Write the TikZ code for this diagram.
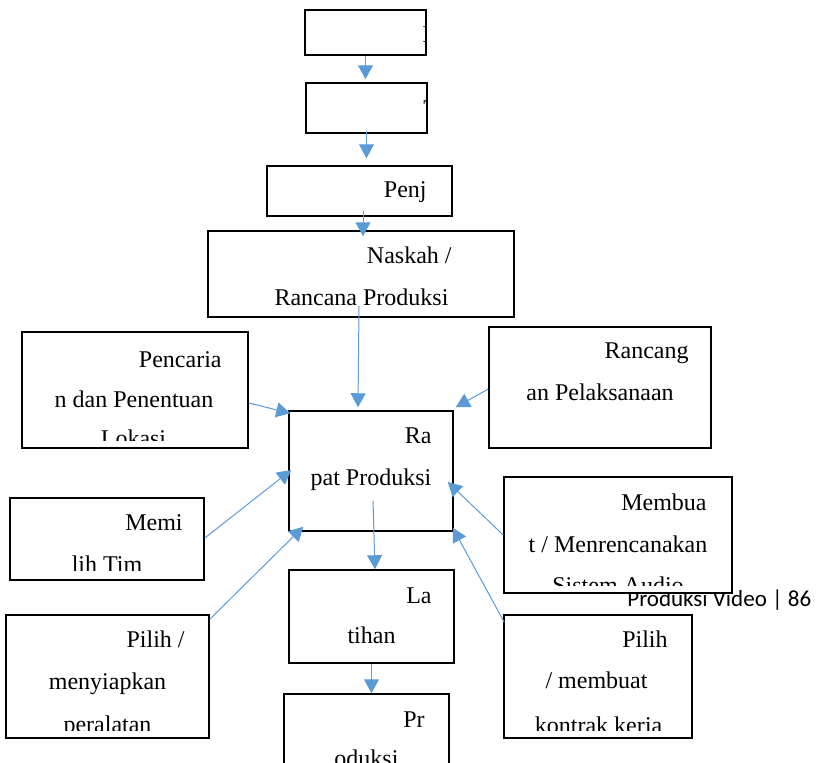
\documentclass[tikz,border=0pt]{standalone}
\usepackage{fontspec}
\setmainfont{Liberation Serif}
\newfontfamily\footfont{Carlito}
\usetikzlibrary{arrows.meta,calc}
\definecolor{arrblue}{RGB}{91,155,213}
\tikzset{
	box/.style={shape=rectangle, draw, fill=white, line width=0.75pt, inner sep=0pt},
	txt/.style={inner sep=0pt, font=\fontsize{12}{14}\selectfont},
	arr/.style={draw=arrblue, line width=0.5pt, -{Triangle[length=7pt, width=7.5pt]}}
}
\begin{document}
\begin{tikzpicture}[x=0.5pt, y=-0.5pt]
	\clip (0,0) rectangle (825,762);
	% page footer, partly hidden by the box above it
	\node[inner sep=0pt, anchor=base west, font=\footfont\fontsize{11.5}{13}\selectfont] (footer) at (627,606) {Produksi Video | 86};
	% boxes
	\node[box, minimum width=60.5pt, minimum height=22.5pt] (ide) at (365.5,32.5) {};
	\node[box, minimum width=60.5pt, minimum height=25pt] (tema) at (366.5,108) {};
	\node[box, minimum width=92.5pt, minimum height=25pt] (penj) at (359.5,191) {};
	\node[box, minimum width=153pt, minimum height=43pt] (naskah) at (361,274) {};
	\node[box, minimum width=113pt, minimum height=58pt] (lokasi) at (135,390) {};
	\node[box, minimum width=111pt, minimum height=60.5pt] (rancangan) at (600,387.5) {};
	\node[box, minimum width=82pt, minimum height=60pt] (rapat) at (371,471) {};
	\node[box, minimum width=82.5pt, minimum height=46.5pt] (latihan) at (371.5,616.5) {};
	\node[box, minimum width=82.5pt, minimum height=40pt] (produksi) at (366.5,734) {};
	\node[box, minimum width=97pt, minimum height=41pt] (tim) at (107,539) {};
	\node[box, minimum width=101.5pt, minimum height=61.5pt] (alat) at (107.5,676.5) {};
	\node[box, minimum width=114pt, minimum height=58pt] (audio) at (618,535) {};
	\node[box, minimum width=94pt, minimum height=61.5pt] (kontrak) at (598,676.5) {};
	% texts, cut off by their boxes
	\begin{scope}
		\clip (ide.north west) rectangle ($(ide.south east)+(0,-8)$);
		\node[txt, anchor=base west] (ide-1) at (422,42) {I};
	\end{scope}
	\begin{scope}
		\clip (tema.north west) rectangle ($(tema.south east)+(0,-8)$);
		\node[txt, anchor=base west] (tema-1) at (423,116) {T};
	\end{scope}
	\begin{scope}
		\clip (penj.north west) rectangle ($(penj.south east)+(0,-8)$);
		\node[txt, anchor=base east] (penj-1) at (427,197) {Penj};
	\end{scope}
	\begin{scope}
		\clip (naskah.north west) rectangle ($(naskah.south east)+(0,-8)$);
		\node[txt, anchor=base east] (naskah-1) at (452,263) {Naskah /};
		\node[txt, anchor=base] (naskah-2) at (361.5,305) {Rancana Produksi};
	\end{scope}
	\begin{scope}
		\clip (lokasi.north west) rectangle ($(lokasi.south east)+(0,-8)$);
		\node[txt, anchor=base east] (lokasi-1) at (222,367) {Pencaria};
		\node[txt, anchor=base] (lokasi-2) at (134,407) {n dan Penentuan};
		\node[txt, anchor=base] (lokasi-3) at (133.5,446) {Lokasi};
	\end{scope}
	\begin{scope}
		\clip (rancangan.north west) rectangle ($(rancangan.south east)+(0,-8)$);
		\node[txt, anchor=base east] (rancangan-1) at (689,358) {Rancang};
		\node[txt, anchor=base] (rancangan-2) at (600,400) {an Pelaksanaan};
	\end{scope}
	\begin{scope}
		\clip (rapat.north west) rectangle ($(rapat.south east)+(0,-8)$);
		\node[txt, anchor=base east] (rapat-1) at (432,443) {Ra};
		\node[txt, anchor=base] (rapat-2) at (371,485) {pat Produksi};
	\end{scope}
	\begin{scope}
		\clip (latihan.north west) rectangle ($(latihan.south east)+(0,-8)$);
		\node[txt, anchor=base east] (latihan-1) at (432,603) {La};
		\node[txt, anchor=base] (latihan-2) at (371.5,643) {tihan};
	\end{scope}
	\begin{scope}
		\clip (produksi.north west) rectangle ($(produksi.south east)+(0,-8)$);
		\node[txt, anchor=base east] (produksi-1) at (425,727) {Pr};
		\node[txt, anchor=base] (produksi-2) at (366.5,766) {oduksi};
	\end{scope}
	\begin{scope}
		\clip (tim.north west) rectangle ($(tim.south east)+(0,-10)$);
		\node[txt, anchor=base east] (tim-1) at (183,530) {Memi};
		\node[txt, anchor=base] (tim-2) at (107,572) {lih Tim};
	\end{scope}
	\begin{scope}
		\clip (alat.north west) rectangle ($(alat.south east)+(0,-8)$);
		\node[txt, anchor=base east] (alat-1) at (185,647) {Pilih /};
		\node[txt, anchor=base] (alat-2) at (107.5,689) {menyiapkan};
		\node[txt, anchor=base] (alat-3) at (107.5,732) {peralatan};
	\end{scope}
	\begin{scope}
		\clip (audio.north west) rectangle ($(audio.south east)+(0,-8)$);
		\node[txt, anchor=base east] (audio-1) at (707,510) {Membua};
		\node[txt, anchor=base] (audio-2) at (618,552) {t / Menrencanakan};
		\node[txt, anchor=base] (audio-3) at (618,593) {Sistem Audio};
	\end{scope}
	\begin{scope}
		\clip (kontrak.north west) rectangle ($(kontrak.south east)+(0,-8)$);
		\node[txt, anchor=base east] (kontrak-1) at (668,647) {Pilih};
		\node[txt, anchor=base] (kontrak-2) at (596.5,688) {/ membuat};
		\node[txt, anchor=base] (kontrak-3) at (598.5,733) {kontrak kerja};
	\end{scope}
	% arrows
	\draw[arr, shorten >=1.5pt] (ide.south) -- (ide.south |- tema.north);
	\draw[arr, shorten <=-1.5pt, shorten >=3.5pt] (tema.south) -- (tema.south |- penj.north);
	\draw[arr] ($(penj.south)+(3.5,-6)$) -- ($(naskah.north)+(2,6)$);
	\draw[arr] ($(naskah.south)+(-2,-12)$) -- ($(rapat.north)+(-13,-3)$);
	\draw[arr] ($(lokasi.east)+(0,13)$) -- ($(rapat.north west)+(2,3)$);
	\draw[arr] ($(rancangan.west)+(0,1.5)$) -- ($(rapat.north east)+(2,-3)$);
	\draw[arr] ($(tim.east)+(0,-1)$) -- ($(rapat.west)+(3,-1)$);
	\draw[arr] ($(alat.north east)+(0,5)$) -- ($(rapat.south west)+(15,-5)$);
	\draw[arr] ($(rapat.south)+(2,-31)$) -- ($(latihan.north)+(3.5,0)$);
	\draw[arr] (latihan.south) -- (latihan.south |- produksi.north);
	\draw[arr] (audio.west) -- ($(rapat.east)+(-6,11)$);
	\draw[arr] ($(kontrak.north west)+(1,8)$) -- ($(rapat.south east)+(-1,-4)$);
\end{tikzpicture}
\end{document}
